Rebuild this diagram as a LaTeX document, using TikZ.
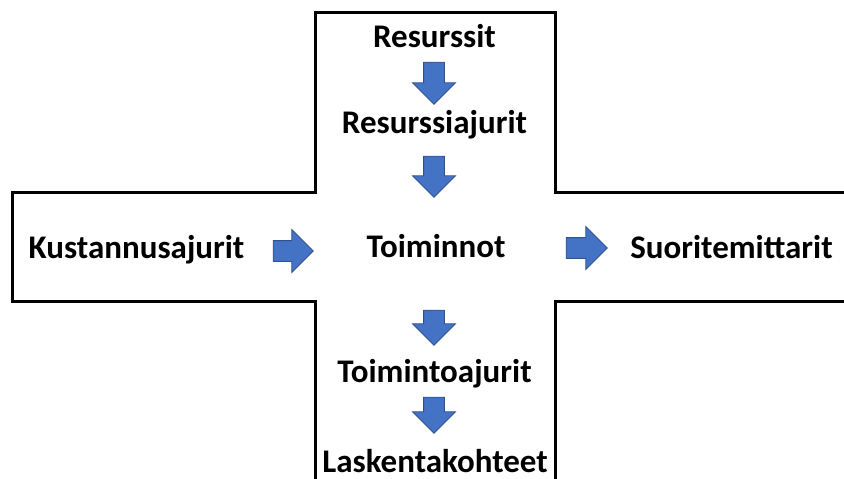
\documentclass[tikz,border=0pt]{standalone}
\usepackage{fontspec}
\setmainfont{Carlito}
\usetikzlibrary{shapes.arrows}
\definecolor{blu}{HTML}{4472C4}
\definecolor{bluline}{HTML}{2F528F}
\tikzset{%
    lab/.style={font=\fontsize{33}{36}\selectfont\bfseries, inner sep=0pt, anchor=base},
    arr/.style={single arrow, draw=bluline, fill=blu, line width=0.8pt, inner xsep=0pt, inner ysep=10pt,
        minimum width=42pt, minimum height=#1, single arrow head extend=11pt},
    arr/.default=41pt,
    dn/.style={rotate=-90},
    cru/.style={line width=3pt, line join=miter},
}
\begin{document}
\begin{tikzpicture}[x=1pt,y=-1pt]
    \useasboundingbox (0,0) rectangle (844,479);
    % cross outline
    \draw [cru](846,192)--(555,192)--(555,12)--(315,12)--(315,192)--(12,192)--(12,301)--(315,301)--(315,482);
    \draw [cru](846,301)--(555,301)--(555,482);
    % labels
    \node [lab] (res) at (434.5,47) {Resurssit};
    \node [lab] (resaj) at (434.5,133) {Resurssiajurit};
    \node [lab] (kust) at (136.5,258) {Kustannusajurit};
    \node [lab] (toim) at (436,257) {Toiminnot};
    \node [lab] (suor) at (731.5,258) {Suoritemittarit};
    \node [lab] (toimaj) at (434.5,382) {Toimintoajurit};
    \node [lab] (lask) at (435,472) {Laskentakohteet};
    % block arrows
    \node [arr=42pt, dn] (a1) at (434,78) {};
    \node [arr=41pt, dn] (a2) at (434,171.5) {};
    \node [arr=35pt, dn] (a3) at (434,322.5) {};
    \node [arr=36pt, dn] (a4) at (434,410) {};
    \node [arr=40pt] (a5) at (288,251) {};
    \node [arr=41pt] (a6) at (581.5,248) {};
\end{tikzpicture}
\end{document}
